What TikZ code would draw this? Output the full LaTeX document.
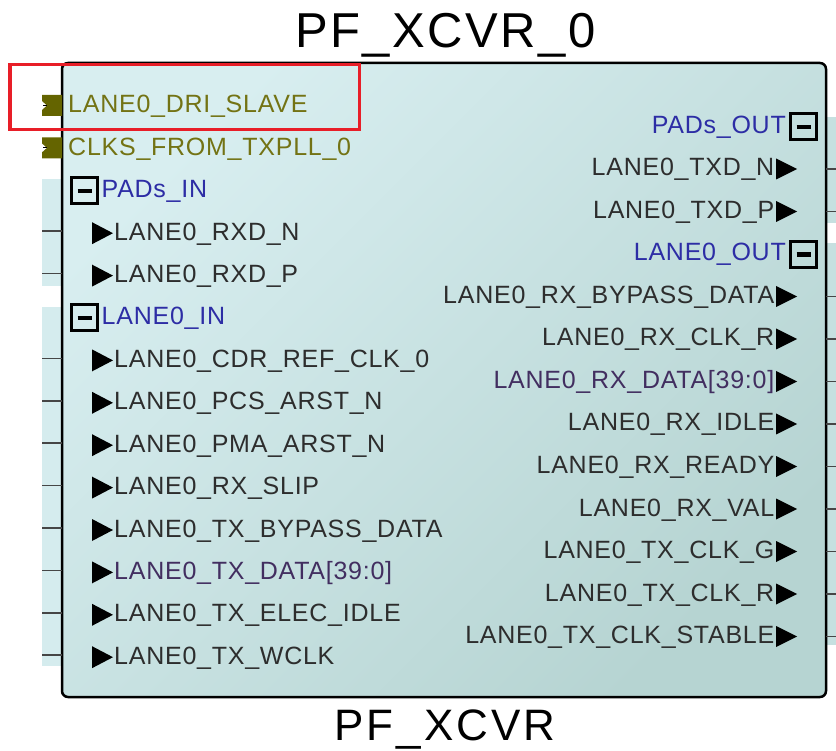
\documentclass[tikz,border=0pt]{standalone}
\usepackage{fontspec}
\setmainfont{Liberation Sans}
\newfontfamily\pinfont[LetterSpace=3]{Liberation Sans}
\newfontfamily\titlefont[LetterSpace=5]{Liberation Sans}
\newfontfamily\cellfont[LetterSpace=7]{Liberation Sans}
\usetikzlibrary{positioning, calc}
\definecolor{boxtl}{RGB}{216,238,240}
\definecolor{boxbr}{RGB}{182,212,210}
\definecolor{padleft}{RGB}{213,236,238}
\definecolor{padright}{RGB}{198,224,224}
\definecolor{pinfg}{RGB}{45,45,45}
\definecolor{busfg}{RGB}{66,46,96}
\definecolor{grpfg}{RGB}{45,45,165}
\definecolor{olivefg}{RGB}{115,115,20}
\definecolor{olivepin}{RGB}{100,100,0}
\definecolor{stubline}{RGB}{70,70,70}
\definecolor{hilite}{RGB}{232,30,40}
\tikzset{
  xcvrbox/.style={draw=black, line width=2.5pt, rounded corners=6pt,
    top color=boxtl, bottom color=boxbr, shading angle=45,
    minimum width=764pt, minimum height=634pt, inner sep=0pt},
  pinlabel/.style={inner sep=0pt, text=pinfg,
    font=\pinfont\fontsize{25}{25}\selectfont},
  lpin/.style={pinlabel, anchor=base west},
  rpin/.style={pinlabel, anchor=base east},
  grplabel/.style={pinlabel, text=grpfg},
  grpbox/.style={draw=black, line width=3pt, minimum size=26pt, inner sep=0pt,
    path picture={\draw[line width=4.5pt]
      ($(path picture bounding box.center)+(-7pt,0)$) --
      ($(path picture bounding box.center)+(7pt,0)$);}},
  stub/.style={draw=stubline, line width=1.5pt},
  title/.style={inner sep=0pt, anchor=base}
}
\begin{document}
\begin{tikzpicture}[x=1pt, y=-1pt]
  \useasboundingbox (0,0) rectangle (836,751);

  % Pad panels behind the stubs
  \fill[padleft] (42,179) rectangle (62,286);
  \fill[padleft] (42,307) rectangle (62,666);
  \fill[padright] (826,117) rectangle (836,223);
  \fill[padright] (826,243) rectangle (836,645);

  % Component body
  \node[xcvrbox] (xcvr) at (444,380) {};
  \node[title, font=\titlefont\fontsize{49}{49}\selectfont] (inst) at (445.5,48) {PF\_XCVR\_0};
  \node[title, font=\cellfont\fontsize{44}{44}\selectfont] (cell) at (445,740) {PF\_XCVR};

  % Row anchors on the body edges
  \foreach \k in {0,...,13}
    \coordinate (lrow-\k) at (62, 104+42.4*\k);
  \foreach \k in {0,...,12}
    \coordinate (rrow-\k) at (826, 124.5+42.5*\k);

  % Top-level pins
  \foreach \k/\name in {0/LANE0\_DRI\_SLAVE, 1/CLKS\_FROM\_TXPLL\_0} {
    \fill[olivepin] ($(lrow-\k)+(-20,-9)$) -- ($(lrow-\k)+(0,-9)$) -- ($(lrow-\k)+(0,12)$)
      -- ($(lrow-\k)+(-20,12)$) -- ($(lrow-\k)+(-20,6)$) -- ($(lrow-\k)+(-15,1.5)$)
      -- ($(lrow-\k)+(-20,-3)$) -- cycle;
    \draw[black, line width=1pt] ($(lrow-\k)+(-19,1.5)$) -- ++(4,0);
    \node[lpin, text=olivefg] (lpin-\k) at ($(lrow-\k)+(6,9)$) {\name};
  }

  % Left groups
  \foreach \k/\name in {2/PADs\_IN, 5/LANE0\_IN} {
    \node[grpbox] (lgrp-\k) at ($(lrow-\k)+(22.5,2)$) {};
    \node[grplabel, anchor=base west] (lglbl-\k) at ($(lrow-\k)+(39.5,9)$) {\name};
  }

  % Left pins
  \foreach \k/\col/\name in {3/pinfg/LANE0\_RXD\_N, 4/pinfg/LANE0\_RXD\_P,
      6/pinfg/LANE0\_CDR\_REF\_CLK\_0, 7/pinfg/LANE0\_PCS\_ARST\_N,
      8/pinfg/LANE0\_PMA\_ARST\_N, 9/pinfg/LANE0\_RX\_SLIP,
      10/pinfg/LANE0\_TX\_BYPASS\_DATA, 11/busfg/LANE0\_TX\_DATA[39:0],
      12/pinfg/LANE0\_TX\_ELEC\_IDLE, 13/pinfg/LANE0\_TX\_WCLK} {
    \fill ($(lrow-\k)+(30,-9)$) -- ($(lrow-\k)+(51,2)$) -- ($(lrow-\k)+(30,13)$) -- cycle;
    \node[lpin, text=\col] (lpin-\k) at ($(lrow-\k)+(52,9)$) {\name};
    \draw[stub] (lrow-\k) -- ++(-20,0);
  }

  % Right groups
  \foreach \k/\name in {0/PADs\_OUT, 3/LANE0\_OUT} {
    \node[grpbox] (rgrp-\k) at ($(rrow-\k)+(-22.5,2.5)$) {};
    \node[grplabel, anchor=base east] (rglbl-\k) at ($(rrow-\k)+(-40,9)$) {\name};
  }

  % Right pins
  \foreach \k/\col/\name in {1/pinfg/LANE0\_TXD\_N, 2/pinfg/LANE0\_TXD\_P,
      4/pinfg/LANE0\_RX\_BYPASS\_DATA, 5/pinfg/LANE0\_RX\_CLK\_R,
      6/busfg/LANE0\_RX\_DATA[39:0], 7/pinfg/LANE0\_RX\_IDLE,
      8/pinfg/LANE0\_RX\_READY, 9/pinfg/LANE0\_RX\_VAL,
      10/pinfg/LANE0\_TX\_CLK\_G, 11/pinfg/LANE0\_TX\_CLK\_R,
      12/pinfg/LANE0\_TX\_CLK\_STABLE} {
    \fill ($(rrow-\k)+(-50,-8.5)$) -- ($(rrow-\k)+(-29,2)$) -- ($(rrow-\k)+(-50,12.5)$) -- cycle;
    \node[rpin, text=\col] (rpin-\k) at ($(rrow-\k)+(-51.5,9)$) {\name};
    \draw[stub] ($(rrow-\k)+(0,2)$) -- ++(10,0);
  }

  % Highlight
  \draw[hilite, line width=3.5pt] (10,64.5) rectangle (359.5,129.5);
\end{tikzpicture}
\end{document}
